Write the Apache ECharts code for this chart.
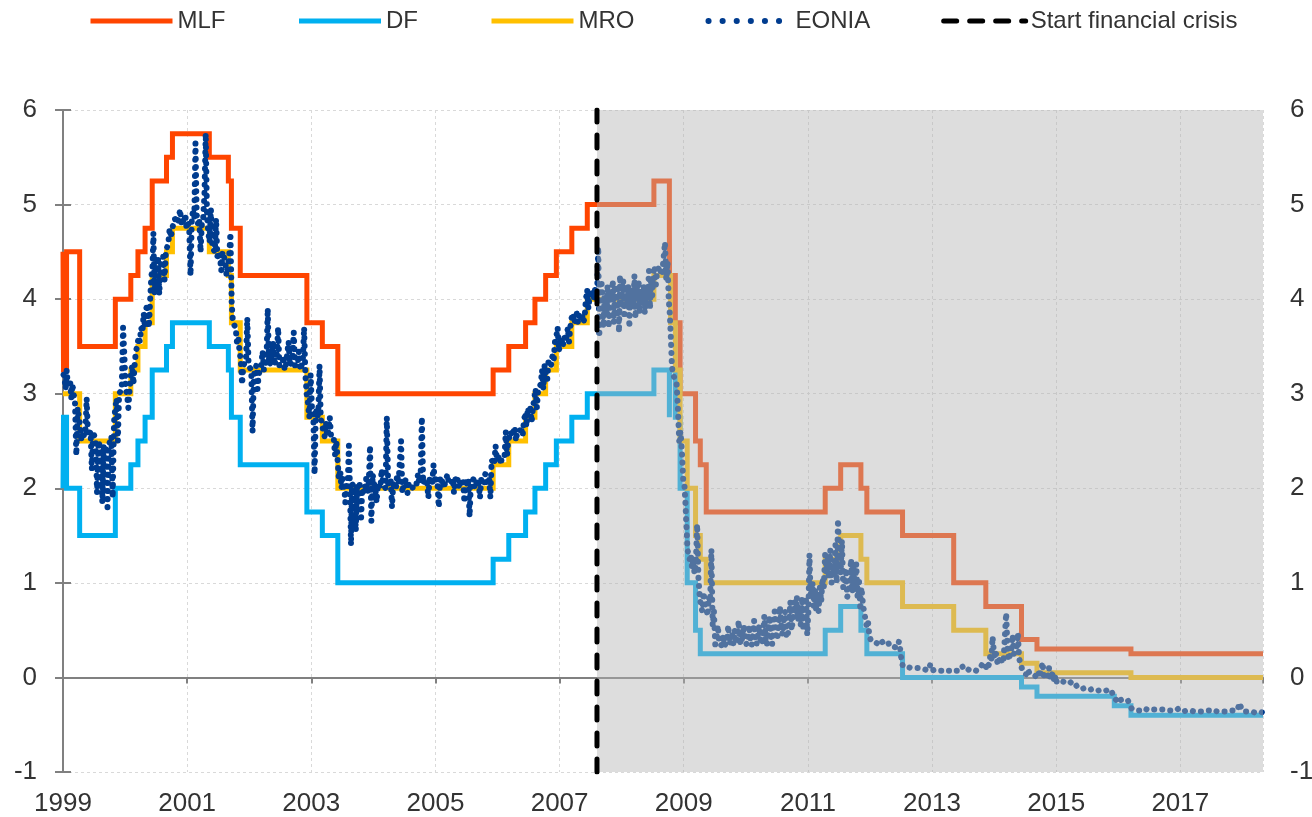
<!DOCTYPE html>
<html><head><meta charset="utf-8">
<script src="https://cdn.jsdelivr.net/npm/echarts@6/dist/echarts.min.js"></script>
<style>html,body{margin:0;padding:0;background:#fff}#c{width:1312px;height:817px}</style>
</head><body><div id="c"></div>
<script>
// ---------- data ----------
const xStart = '1999-01-01';
const xEnd = '2018-05-02';
const crisisDate = '2007-08-09';
const yearLabels = ['1999','2001','2003','2005','2007','2009','2011','2013','2015','2017'];

const mlfDates = ['1999-01-01','1999-01-04','1999-01-22','1999-04-09','1999-11-05','2000-02-04','2000-03-17','2000-04-28','2000-06-09','2000-09-01','2000-10-06','2001-05-11','2001-08-31','2001-09-18','2001-11-09','2002-12-06','2003-03-07','2003-06-06','2005-12-06','2006-03-08','2006-06-15','2006-08-09','2006-10-11','2006-12-13','2007-03-14','2007-06-13','2008-07-09','2008-10-08','2008-10-09','2008-11-12','2008-12-10','2009-03-11','2009-04-08','2009-05-13','2011-04-13','2011-07-13','2011-11-09','2011-12-14','2012-07-11','2013-05-08','2013-11-13','2014-06-11','2014-09-10','2016-03-16'];
const mlfValues = [4.50,3.25,4.50,3.50,4.00,4.25,4.50,4.75,5.25,5.50,5.75,5.50,5.25,4.75,4.25,3.75,3.50,3.00,3.25,3.50,3.75,4.00,4.25,4.50,4.75,5.00,5.25,4.75,4.25,3.75,3.00,2.50,2.25,1.75,2.00,2.25,2.00,1.75,1.50,1.00,0.75,0.40,0.30,0.25];

const dfDates = ['1999-01-01','1999-01-04','1999-01-22','1999-04-09','1999-11-05','2000-02-04','2000-03-17','2000-04-28','2000-06-09','2000-09-01','2000-10-06','2001-05-11','2001-08-31','2001-09-18','2001-11-09','2002-12-06','2003-03-07','2003-06-06','2005-12-06','2006-03-08','2006-06-15','2006-08-09','2006-10-11','2006-12-13','2007-03-14','2007-06-13','2008-07-09','2008-10-08','2008-10-09','2008-11-12','2008-12-10','2009-01-21','2009-03-11','2009-04-08','2011-04-13','2011-07-13','2011-11-09','2011-12-14','2012-07-11','2014-06-11','2014-09-10','2015-12-09','2016-03-16'];
const dfValues = [2.00,2.75,2.00,1.50,2.00,2.25,2.50,2.75,3.25,3.50,3.75,3.50,3.25,2.75,2.25,1.75,1.50,1.00,1.25,1.50,1.75,2.00,2.25,2.50,2.75,3.00,3.25,2.75,3.25,2.75,2.00,1.00,0.50,0.25,0.50,0.75,0.50,0.25,0.00,-0.10,-0.20,-0.30,-0.40];

const mroDates = ['1999-01-01','1999-04-09','1999-11-05','2000-02-04','2000-03-17','2000-04-28','2000-06-09','2000-09-01','2000-10-06','2001-05-11','2001-08-31','2001-09-18','2001-11-09','2002-12-06','2003-03-07','2003-06-06','2005-12-06','2006-03-08','2006-06-15','2006-08-09','2006-10-11','2006-12-13','2007-03-14','2007-06-13','2008-07-09','2008-10-15','2008-11-12','2008-12-10','2009-01-21','2009-03-11','2009-04-08','2009-05-13','2011-04-13','2011-07-13','2011-11-09','2011-12-14','2012-07-11','2013-05-08','2013-11-13','2014-06-11','2014-09-10','2016-03-16'];
const mroValues = [3.00,2.50,3.00,3.25,3.50,3.75,4.25,4.50,4.75,4.50,4.25,3.75,3.25,2.75,2.50,2.00,2.25,2.50,2.75,3.00,3.25,3.50,3.75,4.00,4.25,3.75,3.25,2.50,2.00,1.50,1.25,1.00,1.25,1.50,1.25,1.00,0.75,0.50,0.25,0.15,0.05,0.00];

// EONIA readings, one list per month starting 1999-01 (values spread within the month)
const eoniaFirstMonth = '1999-01';
const eoniaMonths = [
// 1999
[3.20,3.15,3.05,3.25,3.10],[3.10,3.15,2.95,3.10],[3.00,2.90,2.35,2.85],[2.75,2.65,2.50,2.60],[2.55,2.60,2.95,2.55],[2.55,2.60,2.20,2.60],
[2.55,2.50,1.95,2.50],[2.45,2.40,1.85,2.45],[2.40,2.45,1.80,2.45],[2.45,2.55,1.90,2.70],[2.85,2.95,2.50,3.00],[3.00,3.05,3.70,3.40],
// 2000
[3.05,3.00,2.85,3.05],[3.20,3.30,3.10,3.30],[3.45,3.50,3.60,3.55],[3.70,3.65,3.85,3.70],[3.90,3.95,3.70,4.00],[4.25,4.30,4.70,4.05,4.35],
[4.30,4.45,4.05,4.35],[4.40,4.45,4.20,4.50],[4.55,4.60,4.75,4.65],[4.75,4.80,4.85,4.80],[4.80,4.85,4.95,4.80],[4.85,4.80,4.90,4.75],
// 2001
[4.80,4.75,4.25,4.85],[4.95,4.85,5.65,4.90],[4.80,4.85,4.50,4.80],[4.85,5.10,5.75,4.90],[4.70,4.60,4.95,4.55],[4.55,4.50,4.85,4.45],
[4.50,4.45,4.30,4.50],[4.45,4.40,4.25,4.35],[4.45,4.70,3.95,3.75],[3.75,3.70,3.55,3.60],[3.45,3.35,3.10,3.30],[3.30,3.35,3.80,3.30],
// 2002
[3.30,3.25,2.60,3.20],[3.25,3.30,3.05,3.20],[3.25,3.30,3.45,3.25],[3.30,3.35,3.90,3.30],[3.30,3.35,3.55,3.30],[3.35,3.40,3.70,3.30],
[3.30,3.30,3.40,3.25],[3.30,3.30,3.55,3.30],[3.30,3.35,3.65,3.30],[3.30,3.30,3.45,3.25],[3.30,3.35,3.70,3.20],[3.00,2.90,2.75,3.20],
// 2003
[2.85,2.80,2.15,2.85],[2.75,2.80,3.30,2.75],[2.75,2.60,2.55,2.70],[2.55,2.60,2.75,2.55],[2.55,2.55,2.35,2.50],[2.30,2.10,2.20,2.00],
[2.10,2.05,1.85,2.05],[2.10,2.45,2.00,1.40,2.05],[2.05,2.00,1.55,2.05],[2.00,2.05,1.65,2.00],[1.95,2.00,2.10,1.95],[2.05,2.45,1.65,2.15],
// 2004
[2.05,2.00,1.85,2.05],[2.05,2.00,2.20,2.05],[2.05,2.00,2.75,2.05],[2.05,2.10,1.80,2.05],[2.05,2.00,2.15,2.05],[2.05,2.50,1.95,2.05],
[2.05,2.10,1.95,2.05],[2.05,2.05,2.00,2.05],[2.05,2.05,2.15,2.05],[2.10,2.75,2.05,2.10],[2.10,2.05,1.90,2.10],[2.10,2.05,2.25,2.05],
// 2005
[2.10,2.05,1.80,2.10],[2.05,2.10,2.00,2.05],[2.05,2.15,2.05,2.05],[2.05,2.10,1.95,2.10],[2.05,2.10,2.00,2.05],[2.05,2.10,1.85,2.10],
[2.05,2.10,1.70,2.05],[2.05,2.10,2.00,2.05],[2.10,2.05,1.90,2.10],[2.10,2.05,2.15,2.05],[2.05,2.10,1.90,2.30],[2.30,2.25,2.45,2.30],
// 2006
[2.30,2.35,2.25,2.35],[2.35,2.35,2.60,2.35],[2.50,2.55,2.60,2.55],[2.60,2.65,2.50,2.60],[2.60,2.60,2.65,2.55],[2.70,2.80,2.65,2.85],
[2.80,2.85,2.70,2.85],[2.95,3.05,2.85,3.05],[3.05,3.10,3.25,3.05],[3.30,3.30,3.15,3.35],[3.35,3.30,3.40,3.35],[3.55,3.60,3.70,3.45],
// 2007
[3.55,3.60,3.50,3.60],[3.55,3.60,3.70,3.55],[3.70,3.80,3.85,3.75],[3.80,3.85,3.75,3.85],[3.80,3.85,3.75,3.80],[4.00,4.10,3.90,4.05],
[4.05,4.10,4.00,4.10],[4.05,4.10,4.55,3.60,4.15],[4.20,4.00,3.70,4.05,3.90],[3.85,4.15,3.70,3.95,4.05],[4.00,4.20,3.75,4.15,3.85],[3.85,4.15,3.65,4.25,3.95],
// 2008
[4.05,4.20,3.80,4.15,3.95],[4.00,4.15,3.70,4.10,3.90],[4.10,3.95,4.25,3.80,4.15],[4.00,4.20,3.85,4.10,3.95],[4.00,4.15,3.85,4.10,3.95],[4.05,4.30,3.90,4.20,4.00],
[4.25,4.35,4.15,4.30],[4.30,4.35,4.25,4.30],[4.30,4.60,4.20,4.40],[4.00,3.85,3.60,3.30,3.20],[3.20,3.15,3.10,2.85],[2.50,2.60,2.40,2.10],
// 2009
[2.05,1.85,1.60,1.35,1.30],[1.25,1.30,1.15,1.25],[1.10,1.20,1.62,1.05],[0.85,0.75,0.70,0.90],[0.80,0.75,0.65,0.85],[0.80,1.35,0.55,0.70],
[0.35,0.40,0.55,0.35],[0.35,0.34,0.45,0.33],[0.36,0.40,0.55,0.35],[0.37,0.45,0.35,0.50],[0.36,0.40,0.60,0.38],[0.35,0.45,0.55,0.40],
// 2010
[0.35,0.40,0.55,0.38],[0.34,0.45,0.60,0.40],[0.35,0.45,0.55,0.40],[0.35,0.45,0.65,0.40],[0.34,0.50,0.65,0.45],[0.35,0.55,0.70,0.45],
[0.40,0.60,0.75,0.55],[0.45,0.60,0.70,0.42],[0.45,0.55,0.80,0.50],[0.60,0.80,0.70,0.85],[0.60,0.75,0.55,0.85],[0.50,0.70,0.85,0.45],
// 2011
[0.70,1.30,0.90,0.85,1.00],[0.75,0.95,0.70,0.90],[0.70,0.95,0.80,1.05],[0.95,1.30,1.10,1.25],[1.05,1.35,1.00,1.20],[1.10,1.40,1.00,1.67],
[1.25,1.10,1.45,0.95],[0.95,1.15,0.85,0.90],[1.05,1.25,0.90,1.20],[0.95,1.20,0.85,1.05],[0.75,0.95,0.80,0.70],[0.70,0.55,0.60,0.45],
// 2012
[0.40,0.38,0.37,0.36],[0.37,0.36,0.35,0.36],[0.35,0.38,0.35,0.33],[0.35,0.34,0.36,0.33],[0.34,0.33,0.35,0.32],[0.33,0.32,0.38,0.30],
[0.18,0.12,0.13,0.12],[0.11,0.11,0.12,0.10],[0.10,0.10,0.09,0.10],[0.09,0.10,0.08,0.09],[0.08,0.09,0.08,0.08],[0.07,0.08,0.13,0.07],
// 2013
[0.07,0.08,0.07,0.08],[0.07,0.07,0.06,0.07],[0.07,0.08,0.07,0.07],[0.08,0.07,0.09,0.08],[0.08,0.07,0.09,0.07],[0.09,0.10,0.08,0.12],
[0.09,0.08,0.10,0.09],[0.08,0.08,0.09,0.08],[0.08,0.08,0.07,0.08],[0.09,0.10,0.13,0.10],[0.10,0.09,0.15,0.12],[0.15,0.25,0.20,0.43,0.30],
// 2014
[0.20,0.25,0.15,0.20],[0.16,0.20,0.15,0.18],[0.20,0.68,0.32,0.18],[0.20,0.30,0.45,0.25],[0.25,0.30,0.47,0.20],[0.20,0.10,0.07,0.04],
[0.05,0.03,0.08,0.04],[0.02,0.03,0.01,0.02],[0.01,0.00,0.05,0.00],[0.00,0.16,0.02,-0.01],[-0.01,0.00,0.10,-0.02],[-0.03,0.05,-0.05,0.02],
// 2015
[-0.05,-0.04,-0.06,-0.05],[-0.04,-0.03,-0.05,-0.04],[-0.05,-0.06,-0.04,-0.06],[-0.07,-0.08,-0.06,-0.08],[-0.10,-0.11,-0.12,-0.11],[-0.12,-0.13,-0.11,-0.12],
[-0.12,-0.11,-0.13,-0.12],[-0.12,-0.12,-0.13,-0.12],[-0.14,-0.14,-0.13,-0.14],[-0.14,-0.13,-0.14,-0.14],[-0.13,-0.14,-0.13,-0.13],[-0.20,-0.19,-0.24,-0.21],
// 2016
[-0.23,-0.24,-0.24,-0.23],[-0.24,-0.24,-0.25,-0.24],[-0.25,-0.30,-0.33,-0.34],[-0.34,-0.34,-0.35,-0.34],[-0.35,-0.34,-0.35,-0.35],[-0.33,-0.33,-0.34,-0.33],
[-0.33,-0.33,-0.34,-0.33],[-0.34,-0.34,-0.34,-0.34],[-0.34,-0.35,-0.34,-0.34],[-0.35,-0.35,-0.35,-0.35],[-0.35,-0.35,-0.35,-0.35],[-0.35,-0.35,-0.33,-0.35],
// 2017
[-0.35,-0.35,-0.36,-0.35],[-0.35,-0.36,-0.35,-0.36],[-0.35,-0.35,-0.36,-0.35],[-0.36,-0.35,-0.36,-0.36],[-0.36,-0.35,-0.36,-0.36],[-0.35,-0.36,-0.35,-0.36],
[-0.36,-0.36,-0.35,-0.36],[-0.36,-0.36,-0.36,-0.36],[-0.36,-0.35,-0.36,-0.36],[-0.36,-0.36,-0.35,-0.36],[-0.35,-0.34,-0.35,-0.33],[-0.34,-0.27,-0.30,-0.34],
// 2018
[-0.36,-0.36,-0.37,-0.36],[-0.36,-0.36,-0.37,-0.36],[-0.36,-0.37,-0.36,-0.36],[-0.37,-0.36,-0.37,-0.37]
];

// ---------- helpers ----------
const DAY = 86400000, YEAR = 365.25 * DAY;
const t0 = Date.UTC(1999, 0, 1);
function off(s) { const p = s.split('-').map(Number); return (Date.UTC(p[0], p[1] - 1, p[2] || 1) - t0) / YEAR; }
const xMax = off(xEnd);
function stepData(dates, vals) {
  const d = dates.map((s, i) => [off(s), vals[i]]);
  d.push([xMax, vals[vals.length - 1]]);
  return d;
}
function eoniaData() {
  const [y0, m0] = eoniaFirstMonth.split('-').map(Number);
  const out = [];
  eoniaMonths.forEach((vals, i) => {
    const a = (Date.UTC(y0, m0 - 1 + i, 1) - t0) / YEAR;
    const b = (Date.UTC(y0, m0 + i, 1) - t0) / YEAR;
    vals.forEach((v, j) => out.push([a + (b - a) * (j + 0.5) / vals.length, v]));
  });
  return out;
}
const xc = off(crisisDate);

const FONT = 'Liberation Sans';
const TXT = '#333333';
const AXC = '#808080';
const GRIDC = '#d9d9d9';

const chart = echarts.init(document.getElementById('c'), null, { renderer: 'canvas' });
const baseLine = { width: 5, join: 'miter', cap: 'butt' };
chart.setOption({
  animation: false,
  backgroundColor: '#ffffff',
  textStyle: { fontFamily: FONT },
  grid: { left: 63, right: 49, top: 110, bottom: 45, containLabel: false, outerBoundsMode: 'none' },
  legend: {
    left: 88, top: 9, padding: 0, itemWidth: 82, itemHeight: 24, itemGap: 71,
    textStyle: { fontSize: 24, color: TXT, fontFamily: FONT },
    lineStyle: { width: 'inherit' },
    itemStyle: { opacity: 0 },
    data: [
      { name: 'MLF' }, { name: 'DF' }, { name: 'MRO' },
      { name: 'EONIA', lineStyle: { type: [0.1, 14], width: 6, cap: 'round' } },
      { name: 'Start financial crisis', lineStyle: { type: [13, 13], width: 5, cap: 'round' } }
    ]
  },
  xAxis: [
    {
      type: 'value', min: 0, max: xMax, interval: 2, position: 'bottom',
      axisLine: { show: false, onZero: false }, axisTick: { show: false },
      axisLabel: {
        fontSize: 26, color: TXT, margin: 19, showMaxLabel: false, fontFamily: FONT,
        formatter: v => { const r = Math.round(v); const s = String(1999 + r); return (Math.abs(v - r) < 1e-6 && yearLabels.includes(s)) ? s : ''; }
      },
      splitLine: { show: true, lineStyle: { color: GRIDC, type: [3, 3], width: 1 } }
    },
    {
      type: 'value', min: 0, max: xMax, interval: 2, position: 'bottom',
      axisLine: { show: true, onZero: true, onZeroAxisIndex: 0, lineStyle: { color: AXC, width: 2 } },
      axisTick: { show: true, inside: false, length: 6, lineStyle: { color: AXC, width: 2 } },
      axisLabel: { show: false }, splitLine: { show: false }
    }
  ],
  yAxis: [
    {
      type: 'value', min: -1, max: 6, interval: 1, position: 'left',
      axisLine: { show: true, lineStyle: { color: AXC, width: 2 } },
      axisTick: { show: true, inside: true, length: 8, lineStyle: { color: AXC, width: 2 } },
      axisLabel: { fontSize: 26, color: TXT, margin: 26, fontFamily: FONT },
      splitLine: { show: true, lineStyle: { color: GRIDC, type: [3, 3], width: 1 } }
    },
    {
      type: 'value', min: -1, max: 6, interval: 1, position: 'right',
      axisLine: { show: true, lineStyle: { color: AXC, width: 2 } },
      axisTick: { show: true, inside: true, length: 8, lineStyle: { color: AXC, width: 2 } },
      axisLabel: { fontSize: 26, color: TXT, margin: 27, fontFamily: FONT },
      splitLine: { show: false }
    }
  ],
  series: [
    { name: 'MLF', type: 'line', step: 'end', symbol: 'none', z: 2, data: stepData(mlfDates, mlfValues),
      itemStyle: { color: '#ff4500' }, lineStyle: Object.assign({ color: '#ff4500' }, baseLine) },
    { name: 'DF', type: 'line', step: 'end', symbol: 'none', z: 2, data: stepData(dfDates, dfValues),
      itemStyle: { color: '#00b0f0' }, lineStyle: Object.assign({ color: '#00b0f0' }, baseLine) },
    { name: 'MRO', type: 'line', step: 'end', symbol: 'none', z: 2, data: stepData(mroDates, mroValues),
      itemStyle: { color: '#ffc000' }, lineStyle: Object.assign({ color: '#ffc000' }, baseLine) },
    { name: 'EONIA', type: 'line', symbol: 'none', z: 3, data: eoniaData(),
      itemStyle: { color: '#003c8f' }, lineStyle: { color: '#003c8f', width: 6, type: [0.1, 8], cap: 'round', join: 'round' } },
    { name: 'crisisShade', type: 'line', symbol: 'none', z: 4, silent: true,
      data: [[xc, 6], [xMax, 6]],
      lineStyle: { width: 0 }, itemStyle: { color: 'rgba(180,180,180,0.45)' },
      areaStyle: { origin: 'start', color: 'rgba(180,180,180,0.45)', opacity: 1 } },
    { name: 'Start financial crisis', type: 'line', symbol: 'none', z: 5, silent: true,
      data: [[xc, -1], [xc, 6]],
      itemStyle: { color: '#000000' }, lineStyle: { color: '#000000', width: 5, type: [13, 13], cap: 'round' } }
  ]
});
</script></body></html>
